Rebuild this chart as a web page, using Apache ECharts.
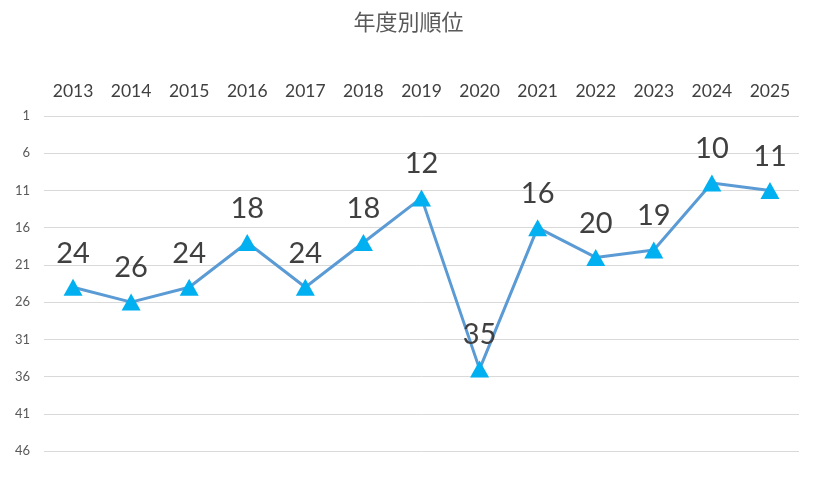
<!DOCTYPE html>
<html><head><meta charset="utf-8">
<script src="https://cdn.jsdelivr.net/npm/echarts@6/dist/echarts.min.js"></script>
<style>html,body{margin:0;padding:0;background:#fff}#c{width:817px;height:491px}</style>
</head><body><div id="c"></div>
<script>
const years = ['2013','2014','2015','2016','2017','2018','2019','2020','2021','2022','2023','2024','2025'];
const ranks = [24,26,24,18,24,18,12,35,16,20,19,10,11];
const rankTicks = [1,46,5];

const chart = echarts.init(document.getElementById('c'));
chart.setOption({
  animation:false,
  backgroundColor:'#fff',
  title:{text:'年度別順位',left:'center',top:6,textStyle:{fontFamily:'Noto Sans CJK JP',fontSize:22,fontWeight:'normal',color:'#595959'}},
  grid:{left:44,right:18,top:116,bottom:40},
  xAxis:{type:'category',data:years,position:'top',boundaryGap:true,
    axisLine:{show:false},axisTick:{show:false},
    axisLabel:{fontFamily:'Lato',fontSize:17.5,color:'#404040',margin:16}},
  yAxis:{type:'value',inverse:true,min:rankTicks[0],max:rankTicks[1],interval:rankTicks[2],
    axisLine:{show:false},axisTick:{show:false},
    splitLine:{lineStyle:{color:'#d9d9d9',width:1}},
    axisLabel:{fontFamily:'Lato',fontSize:13,color:'#595959',margin:14}},
  series:[{type:'line',data:ranks,
    lineStyle:{color:'#5b9bd5',width:3},
    symbol:'triangle',symbolSize:[19,17],
    itemStyle:{color:'#00b0f0'},
    label:{show:true,position:'top',distance:11,fontFamily:'Lato',fontSize:29,color:'#404040'},
    z:2
  }]
});
</script></body></html>
